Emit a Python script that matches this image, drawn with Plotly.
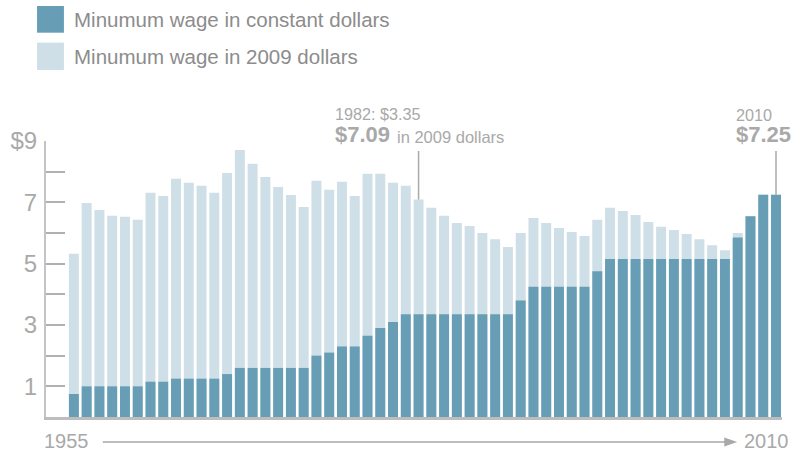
import plotly.graph_objects as go

# ---- data ----
years = list(range(1955, 2011))
nominal = [0.75, 1.00, 1.00, 1.00, 1.00, 1.00, 1.15, 1.15, 1.25, 1.25,
           1.25, 1.25, 1.40, 1.60, 1.60, 1.60, 1.60, 1.60, 1.60, 2.00,
           2.10, 2.30, 2.30, 2.65, 2.90, 3.10, 3.35, 3.35, 3.35, 3.35,
           3.35, 3.35, 3.35, 3.35, 3.35, 3.80, 4.25, 4.25, 4.25, 4.25,
           4.25, 4.75, 5.15, 5.15, 5.15, 5.15, 5.15, 5.15, 5.15, 5.15,
           5.15, 5.15, 5.85, 6.55, 7.25, 7.25]
real2009 = [5.32, 6.98, 6.75, 6.56, 6.53, 6.43, 7.31, 7.21, 7.77, 7.64,
            7.54, 7.31, 7.96, 8.71, 8.26, 7.83, 7.50, 7.24, 6.85, 7.70,
            7.41, 7.67, 7.21, 7.93, 7.93, 7.64, 7.54, 7.09, 6.82, 6.56,
            6.33, 6.23, 6.00, 5.80, 5.54, 6.00, 6.49, 6.33, 6.16, 6.03,
            5.90, 6.43, 6.82, 6.72, 6.59, 6.36, 6.20, 6.10, 5.97, 5.80,
            5.60, 5.44, 6.00, 6.55, 7.25, 7.25]
tick_values = [1, 2, 3, 4, 5, 6, 7, 8, 9]
tick_labels = ["1", "", "3", "", "5", "", "7", "", "$9"]
legend_labels = ["Minumum wage in constant dollars", "Minumum wage in 2009 dollars"]

# ---- style ----
W, H = 792, 453
ML, MR, MT, MB = 43, 10, 141, 36
PW, PH = W - ML - MR, H - MT - MB
DARK = "#679eb6"
LIGHT = "#cedfe7"
GRAY = "#a9a9a9"
FONT = "Liberation Sans, Arial, sans-serif"


def px(x):
    return (x - ML) / PW


def py(y):
    return (H - MB - y) / PH


fig = go.Figure()
fig.add_trace(go.Bar(x=years, y=real2009, width=0.78, marker_color=LIGHT,
                     marker_line_width=0, name=legend_labels[1]))
fig.add_trace(go.Bar(x=years, y=nominal, width=0.78, marker_color=DARK,
                     marker_line_width=0, name=legend_labels[0]))

shapes = []
annotations = []

# legend
for (y0, y1), col, lab in [((6, 32.7), DARK, legend_labels[0]),
                           ((42.7, 70), LIGHT, legend_labels[1])]:
    shapes.append(dict(type="rect", xref="paper", yref="paper",
                       x0=px(34), x1=px(61), y0=py(y1), y1=py(y0),
                       fillcolor=col, line_width=0))
    annotations.append(dict(text=lab, xref="paper", yref="paper",
                            x=px(69), y=py((y0 + y1) / 2), xanchor="left",
                            yanchor="middle", showarrow=False,
                            font=dict(family=FONT, size=20.5, color="#8c8c8c")))

# callout leader lines
i82 = years.index(1982)
i10 = years.index(2010)
top_y = (H - MB - 151) / PH * 9
shapes.append(dict(type="line", xref="x", yref="y", x0=1982, x1=1982,
                   y0=real2009[i82], y1=top_y,
                   line=dict(color=GRAY, width=1.5)))
shapes.append(dict(type="line", xref="x", yref="y", x0=2010, x1=2010,
                   y0=real2009[i10], y1=top_y,
                   line=dict(color=GRAY, width=1.5)))

texts = [
    ("1982: $3.35", 331.5, 114.5, 16.2),
    ("<b>$7.09</b>", 331, 135, 22),
    ("in 2009 dollars", 393, 136.5, 16.5),
    ("2010", 734, 115, 16.2),
    ("<b>$7.25</b>", 734, 134, 22),
    ("1955", 39, 441, 20),
    ("2010", 742, 441, 20),
]
for t, x, y, s in texts:
    annotations.append(dict(text=t, xref="paper", yref="paper",
                            x=px(x), y=py(y), xanchor="left", yanchor="middle",
                            showarrow=False,
                            font=dict(family=FONT, size=s, color=GRAY)))

# bottom arrow
shapes.append(dict(type="line", xref="paper", yref="paper",
                   x0=px(100), x1=px(725), y0=py(442), y1=py(442),
                   line=dict(color=GRAY, width=1.3)))
shapes.append(dict(type="path", xref="paper", yref="paper",
                   path=f"M {px(724)},{py(437.5)} L {px(737)},{py(442)} L {px(724)},{py(446.5)} Z",
                   fillcolor=GRAY, line_width=0))

fig.update_layout(
    width=W, height=H, margin=dict(l=ML, r=MR, t=MT, b=MB),
    barmode="overlay", showlegend=False,
    paper_bgcolor="white", plot_bgcolor="white",
    shapes=shapes, annotations=annotations,
    font=dict(family=FONT, color=GRAY),
    xaxis=dict(range=[1952.815, 2010.47], showgrid=False, zeroline=False,
               showticklabels=False, ticks="", showline=True,
               linecolor="#bdbdbd", linewidth=2.5, fixedrange=True),
    yaxis=dict(range=[0, 9], showgrid=False, zeroline=False,
               tickvals=tick_values, ticktext=tick_labels,
               ticks="inside", ticklen=19, tickwidth=1.5, tickcolor="#b0b0b0",
               showline=True, linecolor="#c4c4c4", linewidth=2,
               tickfont=dict(family=FONT, size=24, color=GRAY),
               ticklabelstandoff=2, fixedrange=True),
)

fig.write_html("out.html", config={"displayModeBar": False},
               post_script="document.body.style.margin='0';document.body.style.overflow='hidden';")
